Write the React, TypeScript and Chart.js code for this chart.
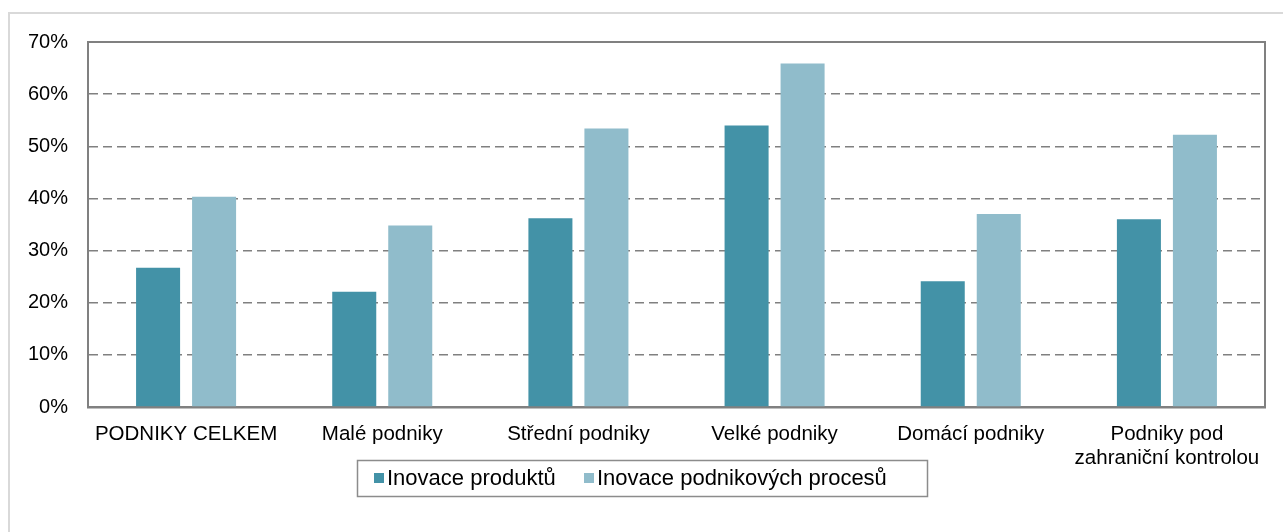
import { useEffect, useRef } from 'react';
import { Chart, registerables } from 'chart.js';

Chart.register(...registerables);

const categories: (string | string[])[] = [
  'PODNIKY CELKEM',
  'Malé podniky',
  'Střední podniky',
  'Velké podniky',
  'Domácí podniky',
  ['Podniky pod', 'zahraniční kontrolou'],
];
const seriesLabels = ['Inovace produktů', 'Inovace podnikových procesů'];
const productInnovation = [26.7, 22.1, 36.2, 54.0, 24.1, 36.0];
const processInnovation = [40.3, 34.8, 53.4, 65.9, 37.0, 52.2];
const yMin = 0;
const yMax = 70;
const yStep = 10;

const darkColor = '#4392A7';
const lightColor = '#90BCCB';
const axisGray = '#808080';
const FONT = '"Liberation Sans", Arial, sans-serif';

const decorPlugin = {
  id: 'decor',
  beforeDraw(chart: any) {
    const { ctx, width, height } = chart;
    ctx.save();
    ctx.fillStyle = '#ffffff';
    ctx.fillRect(0, 0, width, height);
    ctx.strokeStyle = '#d9d9d9';
    ctx.lineWidth = 2;
    ctx.beginPath();
    ctx.moveTo(9, height);
    ctx.lineTo(9, 13);
    ctx.lineTo(width, 13);
    ctx.stroke();
    ctx.restore();
  },
  afterDraw(chart: any) {
    const { ctx, chartArea } = chart;
    ctx.save();
    ctx.strokeStyle = axisGray;
    ctx.lineWidth = 2;
    ctx.beginPath();
    ctx.moveTo(chartArea.left, chartArea.top);
    ctx.lineTo(chartArea.right, chartArea.top);
    ctx.lineTo(chartArea.right, chartArea.bottom);
    ctx.stroke();

    // legend (box + entries) built from the datasets
    const boxLeft = 357, boxTop = 460, boxRight = 927, boxBottom = 496;
    ctx.lineWidth = 1.5;
    ctx.strokeStyle = '#8c8c8c';
    ctx.strokeRect(boxLeft + 0.5, boxTop + 0.5, boxRight - boxLeft, boxBottom - boxTop);
    const midY = (boxTop + boxBottom) / 2;
    const starts = [374, 584];
    ctx.font = `22px ${FONT}`;
    ctx.textBaseline = 'middle';
    ctx.textAlign = 'left';
    chart.data.datasets.forEach((ds: any, i: number) => {
      const x = starts[i];
      ctx.fillStyle = ds.backgroundColor;
      ctx.fillRect(x, midY - 5, 10, 10);
      ctx.fillStyle = '#000';
      ctx.fillText(ds.label, x + 13, midY + 1);
    });
    ctx.restore();
  },
};

export default function App() {
  const ref = useRef<HTMLCanvasElement | null>(null);
  useEffect(() => {
    if (!ref.current) return;
    const chart = new Chart(ref.current, {
      type: 'bar',
      data: {
        labels: categories as any,
        datasets: [
          {
            label: seriesLabels[0],
            data: productInnovation,
            backgroundColor: darkColor,
            categoryPercentage: 0.571,
            barPercentage: 0.786,
          },
          {
            label: seriesLabels[1],
            data: processInnovation,
            backgroundColor: lightColor,
            categoryPercentage: 0.571,
            barPercentage: 0.786,
          },
        ],
      },
      options: {
        animation: false,
        responsive: true,
        maintainAspectRatio: false,
        layout: { padding: { left: 18, right: 18, top: 42, bottom: 0 } },
        plugins: {
          tooltip: { enabled: false },
          legend: { display: false },
        },
        scales: {
          x: {
            grid: { display: false, drawTicks: false },
            border: { display: true, color: axisGray, width: 2.5 },
            ticks: {
              color: '#000',
              font: { family: FONT, size: 20.5, lineHeight: 1.17 },
              padding: 15,
              maxRotation: 0,
              autoSkip: false,
            },
            afterFit(scale: any) {
              scale.height = 125;
            },
          },
          y: {
            min: yMin,
            max: yMax,
            grid: { color: axisGray, lineWidth: 1.5, drawTicks: false },
            border: { display: true, color: axisGray, width: 2, dash: [9, 5] },
            ticks: {
              stepSize: yStep,
              color: '#000',
              font: { family: FONT, size: 20 },
              padding: 20,
              callback: (v: any) => `${v}%`,
            },
            afterFit(scale: any) {
              scale.width = 70;
            },
          },
        },
      },
      plugins: [decorPlugin],
    });
    return () => chart.destroy();
  }, []);
  return (
    <div style={{ position: 'fixed', left: 0, top: 0, width: 1283, height: 532 }}>
      <canvas ref={ref} />
    </div>
  );
}
